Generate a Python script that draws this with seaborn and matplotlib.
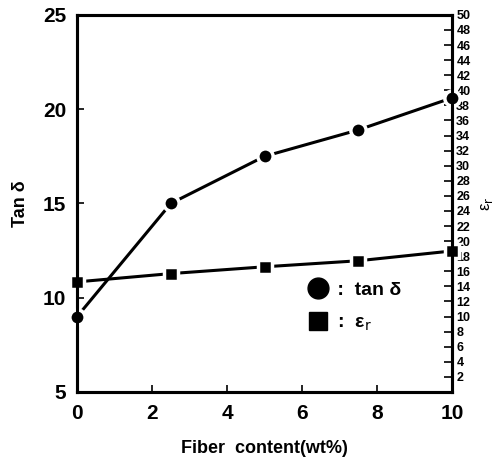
import seaborn as sns
import matplotlib.pyplot as plt
from matplotlib.lines import Line2D

# data
fiber = [0, 2.5, 5, 7.5, 10]
tan_delta = [9.0, 15.0, 17.5, 18.9, 20.6]
eps_r = [14.6, 15.7, 16.6, 17.4, 18.7]

x_ticks = [0, 2, 4, 6, 8, 10]
left_ticks = [5, 10, 15, 20, 25]
right_ticks = list(range(2, 51, 2))

sns.set_style('ticks')
plt.rcParams['font.family'] = ['Liberation Sans', 'DejaVu Sans']
plt.rcParams['mathtext.fontset'] = 'dejavusans'
for k in ('text.color', 'axes.labelcolor', 'xtick.color', 'ytick.color', 'axes.edgecolor'):
    plt.rcParams[k] = 'black'

fig = plt.figure(figsize=(5.04, 4.65), dpi=100)
ax = fig.add_axes([0.153, 0.157, 0.744, 0.811])
ax2 = ax.twinx()

sns.lineplot(x=fiber, y=tan_delta, ax=ax, color='black', lw=2.2, clip_on=False,
             marker='o', markersize=11, markeredgecolor='white', markeredgewidth=2.5)
sns.lineplot(x=fiber, y=eps_r, ax=ax2, color='black', lw=2.2, clip_on=False,
             marker='s', markersize=10, markeredgecolor='white', markeredgewidth=2.5)

for a in (ax, ax2):
    for s in a.spines.values():
        s.set_linewidth(2.2)
ax.set_zorder(ax2.get_zorder() + 1)
ax.patch.set_visible(False)

ax.set_xlim(0, 10)
ax.set_ylim(5, 25)
ax2.set_ylim(0, 50)
ax.set_xticks(x_ticks)
ax.set_yticks(left_ticks)
ax2.set_yticks(right_ticks)

ax.tick_params(direction='in', length=5, width=1.2, labelsize=15, pad=8)
ax.tick_params(axis='x', pad=9)
ax2.tick_params(direction='in', length=6, width=1.2, labelsize=9, pad=3)
for lab in ax.get_xticklabels() + ax.get_yticklabels() + ax2.get_yticklabels():
    lab.set_fontweight('bold')

ax.set_xlabel('Fiber  content(wt%)', fontsize=13, fontweight='bold', labelpad=12)
ax.set_ylabel('Tan δ', fontsize=13, fontweight='bold', labelpad=10)
ax2.set_ylabel(r'ε$_\mathrm{r}$', fontsize=12, labelpad=6)

handles = [Line2D([], [], ls='none', marker='o', color='black', markersize=15),
           Line2D([], [], ls='none', marker='s', color='black', markersize=13)]
ax.legend(handles, [' :  tan δ', r' :  ε$_\mathrm{r}$'], loc='lower right',
          bbox_to_anchor=(0.91, 0.11), frameon=False,
          handletextpad=0.1, handlelength=1.2, labelspacing=0.8,
          prop={'weight': 'bold', 'size': 14})

fig.savefig('out.png', dpi=100)
